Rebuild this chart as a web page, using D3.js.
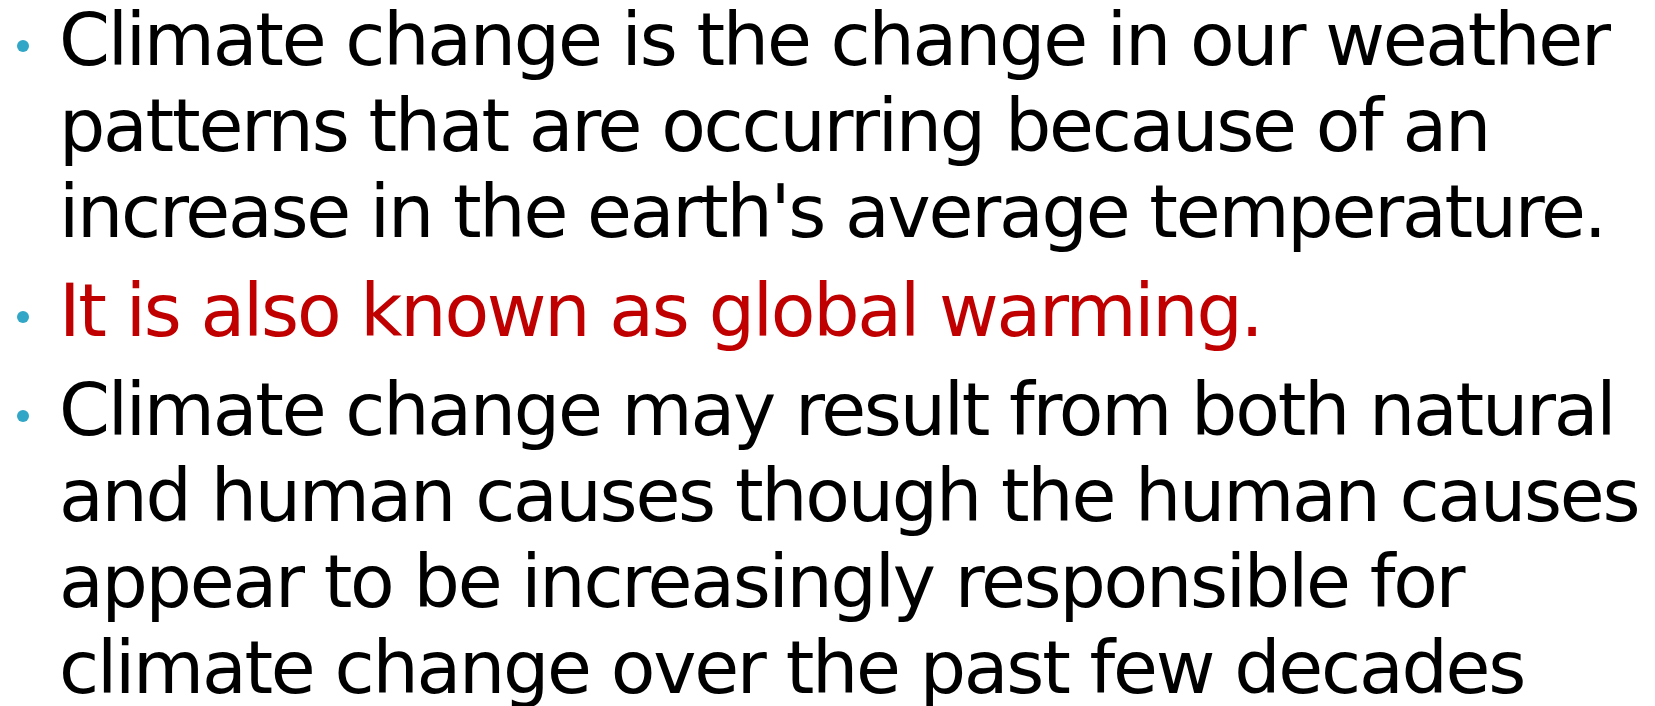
<!DOCTYPE html>
<html lang="en">

<head>
    <meta charset="UTF-8">
    <title>Climate change</title>
    <script src="https://d3js.org/d3.v7.min.js"></script>
    <style>
        html, body {
            margin: 0;
            padding: 0;
            background: #ffffff;
        }

        svg text {
            font-family: "DejaVu Sans", sans-serif;
        }
    </style>
</head>

<body>
    <svg id="slide" width="1655" height="706"></svg>
    <script>
        // bullet points, each one wrapped the way the slide wraps it
        const paragraphs = [
            ["Climate change is the change in our weather",
             "patterns that are occurring because of an",
             "increase in the earth's average temperature."],
            ["It is also known as global warming."],
            ["Climate change may result from both natural",
             "and human causes though the human causes",
             "appear to be increasingly responsible for",
             "climate change over the past few decades"]
        ];
        const paragraphColors = ["#000000", "#c00000", "#000000"];
        const bulletColor = "#31a6c6";

        const svg = d3.select('#slide');

        const fontSize = 73;
        const lineStep = 86;
        const paraGap = 13;
        const textX = 59;
        const firstBaseline = 65;

        // flatten into lines with their baseline
        const lines = [];
        let y = firstBaseline;
        paragraphs.forEach((p, pi) => {
            p.forEach((t, li) => {
                lines.push({ text: t, para: pi, first: li === 0, y: y });
                y += lineStep;
            });
            y += paraGap;
        });

        const textSel = svg.selectAll('text.line')
            .data(lines)
            .enter()
            .append('text')
            .attr('class', 'line')
            .attr('x', textX)
            .attr('y', d => d.y)
            .attr('font-size', fontSize)
            .attr('fill', d => paragraphColors[d.para])
            .text(d => d.text);

        // squeeze / spread letters so the first line spans like the slide
        const first = textSel.node();
        const natural = first.getComputedTextLength();
        const spacing = (1552 - natural) / (lines[0].text.length - 1);
        textSel.attr('letter-spacing', spacing);

        svg.selectAll('circle.bullet')
            .data(lines.filter(d => d.first))
            .enter()
            .append('circle')
            .attr('class', 'bullet')
            .attr('cx', 23)
            .attr('cy', d => d.y - 19)
            .attr('r', 6)
            .attr('fill', bulletColor);
    </script>
</body>

</html>
